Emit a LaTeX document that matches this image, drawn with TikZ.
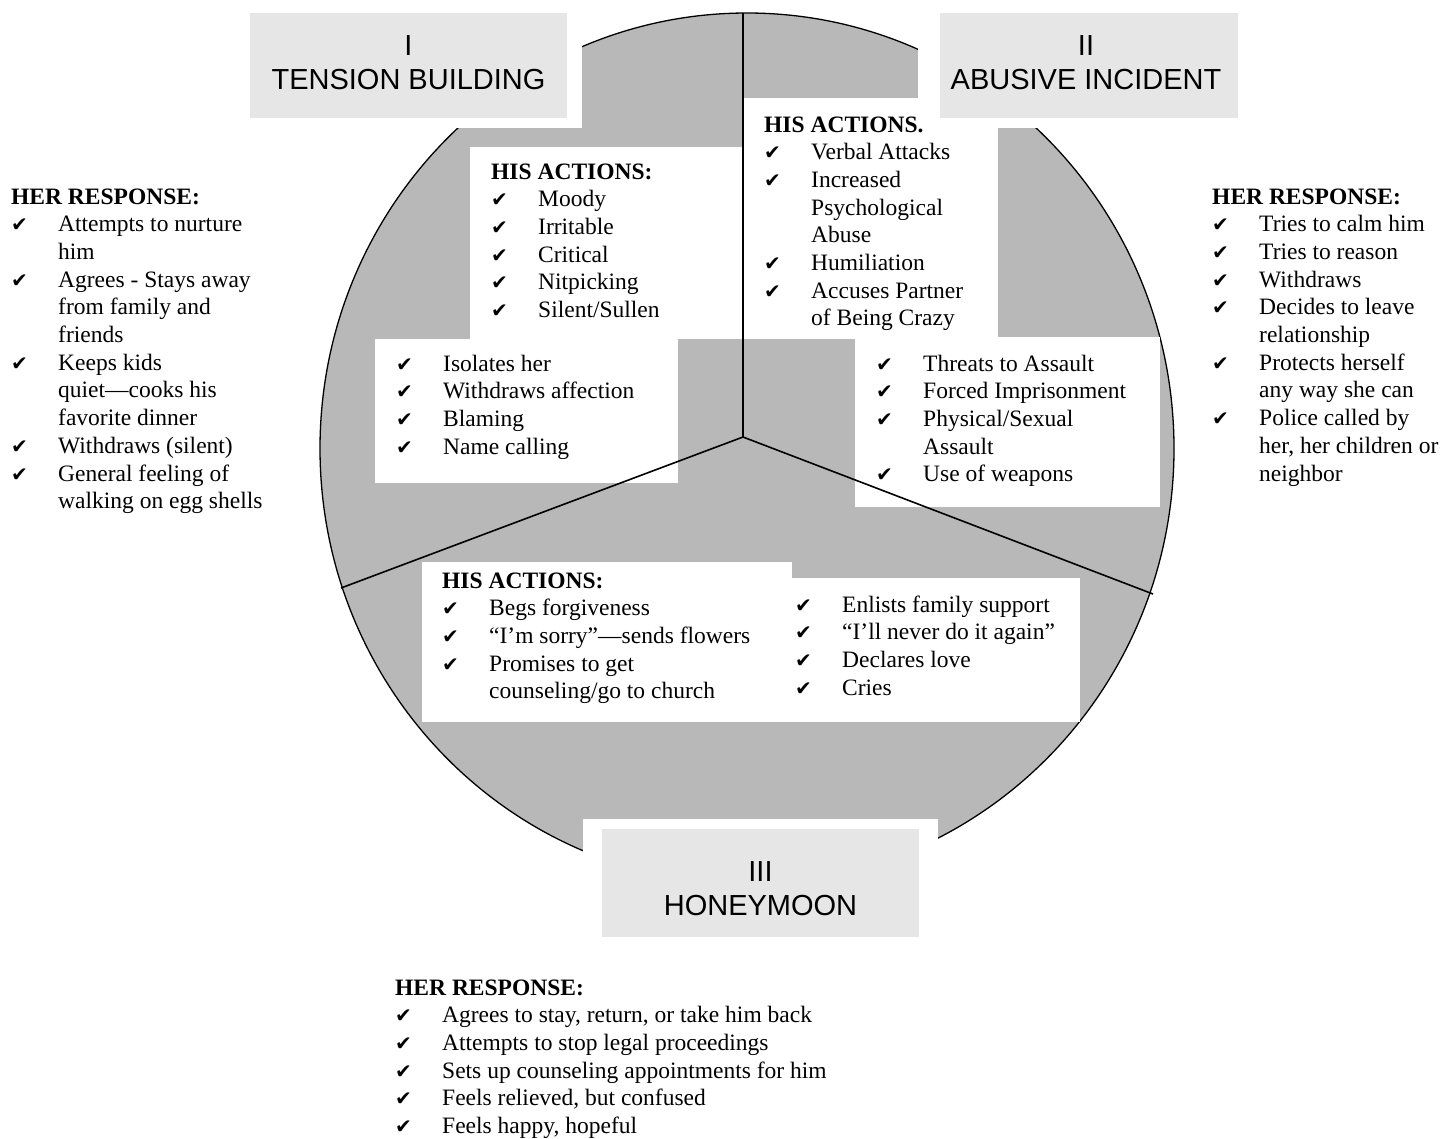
\documentclass[tikz,border=0pt]{standalone}
\usepackage{fontspec}
\setmainfont{Liberation Serif}
\newfontfamily\arialf{Liberation Sans}
\newfontfamily\dejavu{DejaVu Sans}
\definecolor{circfill}{RGB}{184,184,184}
\definecolor{ttlfill}{RGB}{230,230,230}
\newcommand\ckm{{\dejavu\fontsize{20}{20}\selectfont ✔}}
\newcommand\ck[1]{\par\hangindent=47pt\hangafter=1\noindent\hbox to 47pt{\ckm\hss}#1\par}
\newcommand\hd[1]{\noindent\textbf{#1}\par}
\newcommand\blk[1]{\vtop{\hsize=600pt\parindent=0pt\parskip=0pt\rightskip=0pt plus 1fil\fontsize{23.5}{27.7}\selectfont #1}}
\tikzset{
  disc/.style={fill=circfill,draw=black,line width=1.3pt},
  cutout/.style={fill=white},
  ttlbox/.style={fill=ttlfill},
  spoke/.style={draw=black,line width=1.6pt},
  txt/.style={anchor=base west,inner sep=0pt},
  ttltxt/.style={anchor=base,inner sep=0pt,font=\arialf\fontsize{29}{34}\selectfont}
}
\begin{document}
\begin{tikzpicture}[x=1pt,y=-1pt]
\useasboundingbox (0,0) rectangle (1455,1138);
\fill[white] (0,0) rectangle (1455,1138);
% cycle disc
\path[disc] (747,448.5) ellipse [x radius=427pt, y radius=435.5pt];
% white cut-outs
\path[cutout] (225,0) rectangle (582,128);
\path[cutout] (918,0) rectangle (1262,128);
\path[cutout] (583,819) rectangle (938,1138);
\path[cutout] (470,147) rectangle (743,339);
\path[cutout] (743,98) rectangle (998,339);
\path[cutout] (375,339) rectangle (678,483);
\path[cutout] (855,337) rectangle (1160,507);
\path[cutout] (422,562) rectangle (792,722);
\path[cutout] (792,578) rectangle (1080,722);
% title boxes
\path[ttlbox] (250,13) rectangle (567,118);
\path[ttlbox] (940,13) rectangle (1238,118);
\path[ttlbox] (602,829) rectangle (919,937);
% spokes
\coordinate (hub) at (743,437);
\coordinate (sTop) at (743,13);
\coordinate (sLeft) at (341,588);
\coordinate (sRight) at (1153,594);
\draw[spoke] (hub) -- (sTop);
\draw[spoke] (hub) -- (sLeft);
\draw[spoke] (hub) -- (sRight);
% titles
\node[ttltxt] (t1) at (408.5,55.5) {\begin{tabular}[t]{@{}c@{}}I\\TENSION BUILDING\end{tabular}};
\node[ttltxt] (t2) at (1086,55.5) {\begin{tabular}[t]{@{}c@{}}II\\ABUSIVE INCIDENT\end{tabular}};
\node[ttltxt] (t3) at (760.5,881.5) {\begin{tabular}[t]{@{}c@{}}III\\HONEYMOON\end{tabular}};
% text blocks
\node[txt] (herL) at (11,204) {\blk{\hd{HER RESPONSE:}
\ck{Attempts to nurture\\him}
\ck{Agrees - Stays away\\from family and\\friends}
\ck{Keeps kids\\quiet—cooks his\\favorite dinner}
\ck{Withdraws (silent)}
\ck{General feeling of\\walking on egg shells}}};
\node[txt] (hisT) at (491,179) {\blk{\hd{HIS ACTIONS:}
\ck{Moody}
\ck{Irritable}
\ck{Critical}
\ck{Nitpicking}
\ck{Silent/Sullen}}};
\node[txt] (isoT) at (396,371) {\blk{
\ck{Isolates her}
\ck{Withdraws affection}
\ck{Blaming}
\ck{Name calling}}};
\node[txt] (hisA) at (764,132) {\blk{\hd{HIS ACTIONS.}
\ck{Verbal Attacks}
\ck{Increased\\Psychological\\Abuse}
\ck{Humiliation}
\ck{Accuses Partner\\of Being Crazy}}};
\node[txt] (thrA) at (876,371) {\blk{
\ck{Threats to Assault}
\ck{Forced Imprisonment}
\ck{Physical/Sexual\\Assault}
\ck{Use of weapons}}};
\node[txt] (herR) at (1212,204) {\blk{\hd{HER RESPONSE:}
\ck{Tries to calm him}
\ck{Tries to reason}
\ck{Withdraws}
\ck{Decides to leave\\relationship}
\ck{Protects herself\\any way she can}
\ck{Police called by\\her, her children or\\neighbor}}};
\node[txt] (hisH) at (442,588) {\blk{\hd{HIS ACTIONS:}
\ck{Begs forgiveness}
\ck{“I’m sorry”—sends flowers}
\ck{Promises to get\\counseling/go to church}}};
\node[txt] (enlH) at (795,612) {\blk{
\ck{Enlists family support}
\ck{“I’ll never do it again”}
\ck{Declares love}
\ck{Cries}}};
\node[txt] (herB) at (395,995) {\blk{\hd{HER RESPONSE:}
\ck{Agrees to stay, return, or take him back}
\ck{Attempts to stop legal proceedings}
\ck{Sets up counseling appointments for him}
\ck{Feels relieved, but confused}
\ck{Feels happy, hopeful}}};
\end{tikzpicture}
\end{document}
